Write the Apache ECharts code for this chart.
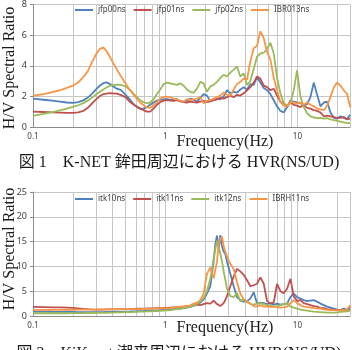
<!DOCTYPE html>
<html lang="ja">
<head>
<meta charset="UTF-8">
<title>HVR</title>
<script src="https://cdn.jsdelivr.net/npm/echarts@6/dist/echarts.min.js"></script>
<style>
  html, body { margin: 0; padding: 0; background: #fff; }
  #chart { width: 352px; height: 350px; }
</style>
</head>
<body>
<div id="chart"></div>
<script>
  // frequencies (Hz)
  var freqTop = [0.1, 0.12, 0.14, 0.16, 0.18, 0.2, 0.22, 0.24, 0.26, 0.28, 0.3, 0.32, 0.34, 0.36, 0.38, 0.4, 0.43, 0.46, 0.5, 0.54, 0.58, 0.62,
    0.647, 0.686, 0.727, 0.77, 0.816, 0.865, 0.917, 0.972, 1.03, 1.092, 1.157, 1.226, 1.3, 1.378, 1.46, 1.548, 1.64, 1.739, 1.843, 1.953,
    2.07, 2.194, 2.325, 2.465, 2.612, 2.769, 2.934, 3.11, 3.297, 3.494, 3.703, 3.925, 4.16, 4.409, 4.673, 4.953, 5.249, 5.564, 5.897, 6.25,
    6.625, 7.018, 7.438, 7.884, 8.356, 8.856, 9.384, 9.946, 10.54, 11.17, 11.84, 12.55, 13.3, 14.1, 14.94, 15.84, 16.78, 17.79, 18.86, 19.99,
    21.18, 22.45, 23.8, 25];

  var jfp00ns = [1.85, 1.78, 1.72, 1.66, 1.6, 1.57, 1.62, 1.74, 1.92, 2.18, 2.45, 2.7, 2.86, 2.92, 2.82, 2.68, 2.5, 2.42, 2.12, 1.8, 1.46, 1.3,
    1.2, 1.2, 1.3, 1.45, 1.6, 1.72, 1.78, 1.8, 1.82, 1.78, 1.75, 1.8, 1.7, 1.65, 1.72, 1.85, 1.78, 1.65, 1.9, 2.15,
    2.05, 1.7, 1.75, 1.85, 1.8, 2.0, 2.4, 2.2, 2.3, 2.25, 2.45, 2.6, 2.45, 2.8, 2.75, 3.25, 2.9, 2.55, 2.4, 2.15,
    1.75, 1.35, 1.05, 0.95, 1.3, 1.75, 1.65, 1.6, 1.55, 1.45, 1.5, 1.95, 2.9, 2.1, 1.35, 1.6, 1.65, 0.95, 0.6, 0.55,
    0.7, 0.6, 0.5, 0.8];
  var jfp01ns = [1.0, 0.98, 0.96, 0.94, 0.92, 0.92, 0.96, 1.05, 1.25, 1.55, 1.8, 2.02, 2.14, 2.18, 2.21, 2.2, 2.18, 2.1, 1.95, 1.65, 1.45, 1.28,
    1.2, 1.1, 1.0, 1.0, 1.2, 1.45, 1.62, 1.72, 1.75, 1.72, 1.7, 1.75, 1.68, 1.62, 1.6, 1.65, 1.62, 1.6, 1.65, 1.7,
    1.62, 1.68, 1.75, 1.8, 1.9, 1.85, 1.95, 2.05, 1.95, 2.1, 2.05, 2.2, 2.4, 2.6, 2.9, 3.3, 3.15, 2.7, 2.6, 2.4,
    2.5, 2.05, 1.65, 1.55, 1.3, 1.65, 1.45, 1.4, 1.3, 1.45, 1.25, 1.2, 1.1, 1.05, 0.95, 0.7, 0.75, 0.7, 0.65, 0.6,
    0.6, 0.65, 0.5, 0.55];
  var jfp02ns = [0.73, 0.85, 0.97, 1.08, 1.2, 1.31, 1.42, 1.56, 1.72, 1.92, 2.12, 2.3, 2.45, 2.58, 2.68, 2.74, 2.76, 2.76, 2.65, 2.45, 2.15, 1.9,
    1.75, 1.62, 1.55, 1.6, 1.8, 2.15, 2.45, 2.8, 2.9, 2.85, 2.8, 2.75, 2.85, 2.7, 2.45, 2.3, 2.25, 2.5, 2.95, 2.85,
    2.3, 2.65, 2.75, 2.95, 3.2, 3.4, 3.3, 3.55, 3.75, 3.95, 3.3, 3.5, 2.75, 3.0, 3.8, 4.6, 4.8, 4.85, 5.1, 5.5,
    4.8, 3.2, 2.2, 1.55, 1.4, 1.55, 2.4, 3.7, 2.0, 1.3, 0.9, 0.7, 0.62, 0.58, 0.6, 0.55, 0.58, 0.5, 0.45, 0.4,
    0.35, 0.3, 0.25, 0.25];
  var IBR013ns = [2.05, 2.15, 2.28, 2.4, 2.55, 2.7, 2.92, 3.25, 3.65, 4.25, 4.75, 5.1, 5.2, 4.95, 4.6, 4.25, 3.78, 3.35, 2.85, 2.42, 2.1, 1.78,
    1.6, 1.42, 1.28, 1.25, 1.4, 1.62, 1.85, 1.95, 1.98, 1.95, 1.85, 1.8, 1.72, 1.65, 1.82, 1.75, 1.8, 1.85, 1.95, 1.55,
    1.7, 1.75, 1.85, 1.95, 2.05, 2.25, 2.1, 2.05, 2.45, 2.8, 2.95, 3.15, 3.1, 4.3, 5.15, 5.3, 6.25, 5.8, 4.9, 4.4,
    3.2, 2.4, 1.65, 1.4, 1.35, 1.65, 1.6, 1.55, 1.6, 1.45, 1.6, 1.45, 1.35, 1.2, 1.15, 1.1, 1.4, 1.95, 2.6, 2.9,
    2.7, 2.4, 2.15, 1.3];

  var freqBottom = [0.1, 0.12, 0.14, 0.16, 0.18, 0.2, 0.22, 0.24, 0.26, 0.28, 0.3, 0.32, 0.34, 0.36, 0.38, 0.4, 0.43, 0.46, 0.5, 0.54, 0.58, 0.62,
    0.647, 0.686, 0.727, 0.77, 0.816, 0.865, 0.917, 0.972, 1.03, 1.092, 1.157, 1.226, 1.3, 1.378, 1.46, 1.548, 1.64, 1.739, 1.843, 1.953,
    2.07, 2.194, 2.325, 2.394, 2.465, 2.538, 2.612, 2.69, 2.769, 2.851, 2.934, 3.11, 3.297, 3.494, 3.703, 3.925, 4.16, 4.409, 4.673, 4.953,
    5.249, 5.564, 5.897, 6.25, 6.625, 7.018, 7.438, 7.884, 8.356, 8.856, 9.384, 9.946, 10.54, 11.17, 11.84, 12.55, 13.3, 14.1, 14.94, 15.84,
    16.78, 17.79, 18.86, 19.99, 21.18, 22.45, 23.8, 25];

  var itk10ns = [0.9, 0.88, 0.86, 0.85, 0.84, 0.82, 0.8, 0.8, 0.8, 0.8, 0.8, 0.8, 0.8, 0.82, 0.83, 0.85, 0.87, 0.88, 0.9, 0.92, 0.95, 0.98,
    1.0, 1.02, 1.05, 1.08, 1.1, 1.15, 1.2, 1.25, 1.3, 1.35, 1.4, 1.45, 1.5, 1.6, 1.7, 1.85, 2.05, 2.3, 2.7, 3.3,
    4.5, 6.0, 11.0, 14.5, 16.2, 13.5, 16.3, 14.0, 13.0, 12.5, 11.0, 8.5, 6.0, 3.8, 3.2, 2.9, 3.0, 3.5, 4.8, 2.5,
    2.7, 2.6, 2.4, 2.6, 2.3, 2.5, 2.3, 2.4, 2.5, 3.8, 4.5, 3.8, 3.5, 3.2, 3.0, 3.1, 3.2, 2.9, 2.5, 2.2,
    1.9, 1.7, 1.5, 1.3, 1.2, 1.5, 1.2, 1.4];
  var itk11ns = [1.85, 1.8, 1.75, 1.72, 1.68, 1.62, 1.55, 1.45, 1.38, 1.32, 1.3, 1.3, 1.3, 1.32, 1.33, 1.35, 1.37, 1.38, 1.4, 1.42, 1.45, 1.48,
    1.5, 1.5, 1.52, 1.55, 1.55, 1.58, 1.6, 1.62, 1.65, 1.7, 1.75, 1.8, 1.85, 1.9, 2.0, 2.1, 2.2, 2.3, 2.2, 2.4,
    2.6, 2.5, 3.1, 2.8, 2.4, 2.2, 2.0, 2.3, 2.6, 3.0, 4.0, 6.0, 8.0, 9.5, 9.0, 8.3, 7.2, 6.0, 6.2, 6.5,
    7.8, 6.5, 3.0, 2.5, 2.7, 6.5, 5.0, 4.6, 5.5, 7.5, 4.0, 3.0, 3.2, 2.6, 2.4, 2.2, 2.0, 1.9, 1.6, 1.6,
    1.4, 1.35, 1.2, 1.25, 1.2, 1.15, 1.3, 1.8];
  var itk12ns = [0.55, 0.55, 0.55, 0.55, 0.55, 0.56, 0.57, 0.58, 0.6, 0.6, 0.62, 0.63, 0.65, 0.66, 0.68, 0.7, 0.72, 0.75, 0.78, 0.8, 0.82, 0.85,
    0.88, 0.9, 0.92, 0.95, 0.98, 1.0, 1.05, 1.1, 1.15, 1.2, 1.3, 1.4, 1.5, 1.6, 1.75, 1.9, 2.1, 2.4, 2.9, 3.6,
    5.0, 7.5, 11.5, 13.5, 15.2, 14.0, 12.5, 11.0, 9.0, 7.3, 5.5, 4.0, 3.8, 4.6, 3.0, 3.3, 3.0, 2.4, 2.3, 2.5,
    2.6, 2.4, 2.2, 2.1, 1.9, 2.0, 2.2, 2.4, 2.6, 1.9, 1.7, 1.5, 1.3, 1.2, 1.1, 1.0, 0.9, 0.85, 0.8, 0.75,
    0.7, 0.7, 0.7, 0.75, 0.85, 0.9, 0.95, 1.1];
  var IBRH11ns = [1.25, 1.25, 1.25, 1.25, 1.25, 1.26, 1.27, 1.28, 1.29, 1.3, 1.3, 1.31, 1.32, 1.33, 1.34, 1.35, 1.36, 1.37, 1.38, 1.39, 1.4, 1.4,
    1.4, 1.42, 1.43, 1.45, 1.47, 1.5, 1.52, 1.54, 1.55, 1.6, 1.72, 1.8, 1.88, 1.95, 2.0, 2.15, 2.5, 2.7, 3.2, 4.5,
    8.5, 9.8, 7.6, 7.2, 11.0, 14.5, 15.5, 16.0, 14.0, 14.0, 12.0, 10.5, 9.5, 6.8, 4.5, 3.4, 2.8, 2.5, 2.0, 1.9,
    2.2, 1.9, 1.9, 1.85, 1.9, 1.8, 1.7, 1.75, 1.9, 2.6, 3.2, 2.6, 2.2, 1.9, 1.8, 1.7, 1.6, 1.55, 1.5, 1.35,
    1.25, 1.2, 1.2, 1.15, 1.15, 1.2, 1.25, 2.2];

  var namesTop = ['jfp00ns', 'jfp01ns', 'jfp02ns', 'IBR013ns'];
  var namesBottom = ['itk10ns', 'itk11ns', 'itk12ns', 'IBRH11ns'];
  var colors = ['#4f81bd', '#c0504d', '#9bbb59', '#f79646'];
  // minor vertical gridlines of the log axis
  var minorLines = [0.2, 0.3, 0.4, 0.5, 0.6, 0.7, 0.8, 0.9, 2, 3, 4, 5, 6, 7, 8, 9, 20];

  var serif = '"Liberation Serif", "Noto Sans CJK JP", serif';
  var gridColor = '#c6c6c6';
  var axisColor = '#8c8c8c';

  function pairs(freq, vals) {
    return freq.map(function (f, i) { return [f, vals[i]]; });
  }

  function lineSeries(name, freq, vals, color, idx) {
    return {
      name: name, type: 'line', xAxisIndex: idx, yAxisIndex: idx,
      data: pairs(freq, vals), symbol: 'none', showSymbol: false,
      lineStyle: { width: 1.8, color: color }, itemStyle: { color: color },
      emphasis: { disabled: true }, z: 3
    };
  }

  function gridSeries(idx) {
    return {
      type: 'line', xAxisIndex: idx, yAxisIndex: idx, data: [], silent: true,
      markLine: {
        silent: true, symbol: 'none', z: 1, animation: false,
        label: { show: false },
        lineStyle: { color: gridColor, width: 1, type: 'solid' },
        data: minorLines.map(function (v) { return { xAxis: v }; })
      }
    };
  }

  function xAxisCfg(idx) {
    return {
      type: 'log', logBase: 10, min: 0.1, max: 25, gridIndex: idx,
      axisLine: { lineStyle: { color: axisColor } },
      axisTick: { show: false },
      splitLine: { show: true, lineStyle: { color: gridColor } },
      axisLabel: {
        fontSize: 8, color: '#404040', margin: 6, showMaxLabel: false,
        formatter: function (v) { return v > 20 ? '' : String(+v.toPrecision(2)); }
      }
    };
  }

  function yAxisCfg(idx, max, step) {
    return {
      type: 'value', min: 0, max: max, interval: step, gridIndex: idx,
      axisLine: { show: true, lineStyle: { color: axisColor } },
      axisTick: { show: true, length: 3, lineStyle: { color: axisColor } },
      splitLine: { lineStyle: { color: gridColor } },
      axisLabel: { fontSize: 9, color: '#404040', margin: 6 }
    };
  }

  function label(text, x, y, size, rot) {
    return {
      type: 'text', x: x, y: y, rotation: rot || 0, silent: true,
      style: { text: text, fontSize: size, fontFamily: serif, fill: '#1a1a1a', align: 'center', verticalAlign: 'middle' }
    };
  }

  var series = [gridSeries(0), gridSeries(1)];
  var topVals = [jfp00ns, jfp01ns, jfp02ns, IBR013ns];
  var botVals = [itk10ns, itk11ns, itk12ns, IBRH11ns];
  for (var i = 0; i < 4; i++) {
    series.push(lineSeries(namesTop[i], freqTop, topVals[i], colors[i], 0));
  }
  for (var j = 0; j < 4; j++) {
    series.push(lineSeries(namesBottom[j], freqBottom, botVals[j], colors[j], 1));
  }

  var legendBase = {
    left: 75, icon: 'rect', itemWidth: 18, itemHeight: 2, itemGap: 8, padding: 0,
    textStyle: { fontSize: 8, color: '#404040', fontFamily: 'Noto Sans' }
  };

  var option = {
    animation: false,
    textStyle: { fontFamily: 'Noto Sans' },
    grid: [
      { left: 33, top: 3, width: 317, height: 124 },
      { left: 33, top: 192, width: 317, height: 124 }
    ],
    xAxis: [xAxisCfg(0), xAxisCfg(1)],
    yAxis: [yAxisCfg(0, 8, 2), yAxisCfg(1, 25, 5)],
    legend: [
      Object.assign({}, legendBase, { top: 6, data: namesTop }),
      Object.assign({}, legendBase, { top: 195, data: namesBottom })
    ],
    graphic: [
      label('H/V Spectral Ratio', 10, 68, 16, Math.PI / 2),
      label('Frequency(Hz)', 225, 142, 16),
      label('図 1　K-NET 鉾田周辺における HVR(NS/UD)', 179, 163, 16),
      label('H/V Spectral Ratio', 10, 249, 16, Math.PI / 2),
      label('Frequency(Hz)', 225, 328, 16),
      label('図 2　KiK-net 潮来周辺における HVR(NS/UD)', 179, 354, 16)
    ],
    series: series
  };

  var myChart = echarts.init(document.getElementById('chart'), null, { renderer: 'canvas' });
  myChart.setOption(option);
</script>
</body>
</html>
